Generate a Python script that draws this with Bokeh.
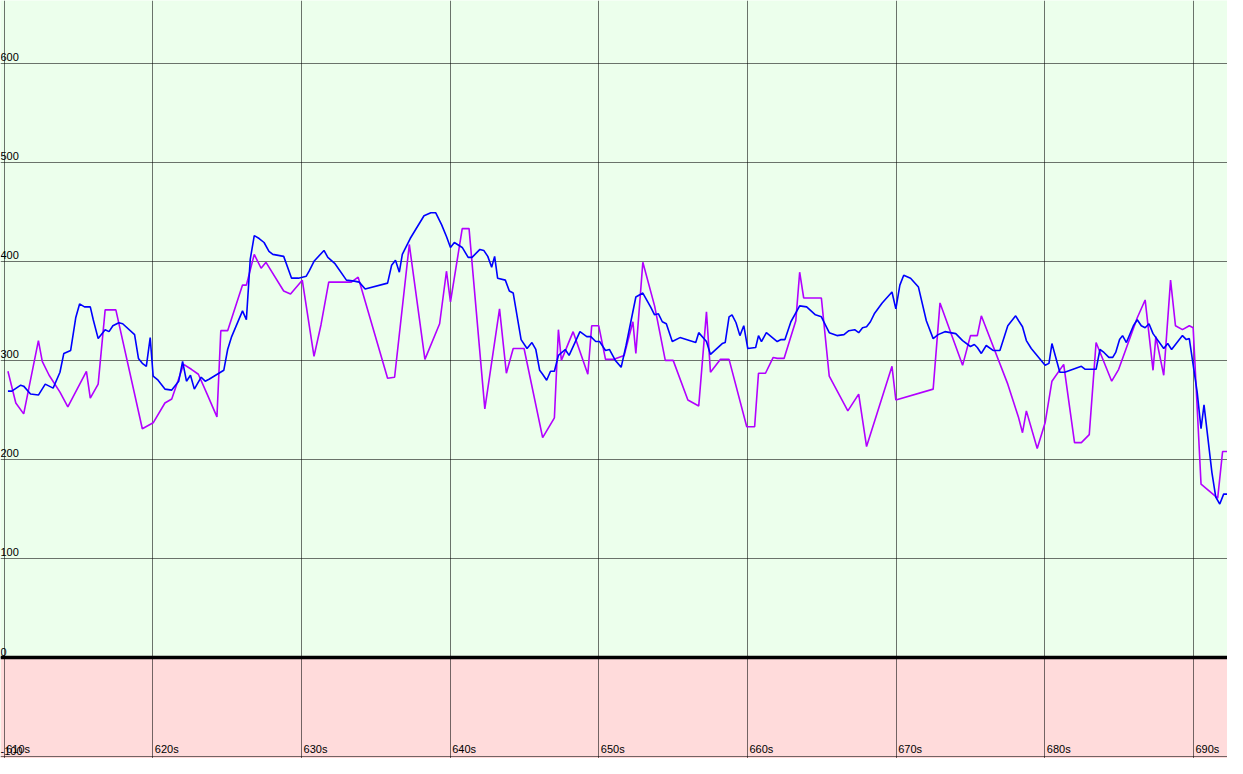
from bokeh.plotting import figure
from bokeh.models import Range1d, ColumnDataSource, Grid, FixedTicker, BoxAnnotation, Span
from bokeh.core.properties import value
from bokeh.embed import file_html
from bokeh.resources import INLINE

# ---- data ----
blue_t = [610.25, 610.51, 611.11, 611.31, 611.77, 612.30, 612.76, 613.29, 613.75, 614.01,
          614.47, 614.81, 615.07, 615.40, 615.79, 615.99, 616.32, 616.79, 617.05, 617.31,
          617.71, 617.97, 618.77, 619.03, 619.29, 619.56, 619.82, 620.02, 620.35, 620.81,
          621.27, 621.74, 622.00, 622.26, 622.53, 622.79, 623.25, 623.52, 623.78, 624.77,
          625.03, 625.30, 626.03, 626.29, 626.55, 626.82, 627.15, 627.48, 627.81, 628.07,
          628.80, 629.33, 629.79, 630.32, 630.51, 630.84, 631.51, 631.77, 632.23, 633.02,
          633.55, 633.88, 634.28, 635.79, 636.06, 636.32, 636.58, 636.78, 637.31, 638.24,
          638.70, 639.03, 639.42, 639.75, 640.02, 640.28, 640.81, 641.21, 641.47, 642.00,
          642.26, 642.53, 642.79, 642.99, 643.19, 643.71, 643.98, 644.24, 644.77, 645.17,
          645.50, 645.76, 646.02, 646.22, 646.49, 646.75, 647.01, 647.28, 647.74, 648.00,
          648.73, 649.19, 649.46, 649.79, 650.05, 650.45, 650.71, 651.11, 651.50, 651.83,
          652.49, 652.96, 653.48, 653.75, 654.01, 654.27, 654.54, 654.94, 655.46, 656.52,
          656.72, 657.24, 657.51, 658.30, 658.50, 658.76, 658.96, 659.23, 659.49, 659.75,
          660.02, 660.55, 660.74, 660.94, 661.27, 662.00, 662.26, 662.52, 662.92, 663.51,
          663.98, 664.57, 664.97, 665.50, 666.02, 666.49, 666.82, 667.21, 667.48, 667.74,
          668.01, 668.27, 668.53, 669.06, 669.72, 669.98, 670.25, 670.51, 670.97, 671.50,
          672.03, 672.49, 672.82, 673.28, 674.01, 674.47, 675.00, 675.26, 675.46, 675.73,
          676.06, 676.52, 676.98, 677.51, 678.04, 678.24, 678.50, 678.76, 679.09, 680.02,
          680.28, 680.48, 681.01, 681.34, 682.46, 682.72, 683.45, 683.71, 683.98, 684.31,
          684.57, 684.77, 685.03, 685.23, 685.49, 685.96, 686.22, 686.49, 686.75, 687.01,
          687.28, 688.00, 688.27, 688.53, 689.26, 689.52, 689.72, 690.25, 690.51, 690.71,
          691.24, 691.50, 691.77, 692.03, 692.29]
blue_v = [269, 269, 275, 274, 266, 265, 276, 272, 288, 307,
          310, 343, 357, 354, 354, 341, 322, 331, 329, 335,
          338, 337, 326, 302, 297, 294, 323, 284, 280, 271,
          270, 279, 299, 279, 285, 271, 283, 279, 281, 290,
          311, 324, 350, 341, 402, 426, 423, 419, 410, 407,
          405, 383, 383, 385, 390, 400, 411, 404, 398, 381,
          380, 379, 372, 378, 396, 401, 389, 407, 423, 446,
          449, 449, 437, 425, 414, 419, 414, 404, 404, 412,
          411, 405, 394, 405, 383, 381, 370, 368, 321, 312,
          318, 311, 290, 286, 280, 289, 289, 305, 311, 305,
          329, 324, 324, 319, 319, 310, 311, 300, 293, 315,
          364, 368, 354, 346, 347, 339, 337, 319, 323, 318,
          328, 319, 306, 317, 318, 344, 346, 338, 325, 335,
          312, 313, 325, 319, 328, 319, 321, 321, 339, 355,
          354, 346, 344, 328, 325, 326, 330, 331, 328, 333,
          334, 339, 347, 358, 369, 352, 376, 386, 383, 374,
          340, 322, 326, 329, 327, 320, 314, 316, 313, 307,
          315, 310, 310, 335, 345, 340, 334, 320, 312, 295,
          297, 317, 288, 288, 294, 291, 291, 311, 308, 303,
          303, 308, 321, 325, 318, 335, 341, 335, 333, 337,
          327, 312, 317, 311, 325, 321, 322, 268, 231, 255,
          187, 162, 155, 165, 165]

purple_t = [610.25, 610.78, 611.31, 612.30, 612.56, 613.02, 613.75, 614.28, 615.53, 615.79,
            616.32, 616.79, 617.51, 619.29, 620.02, 620.81, 621.27, 622.07, 622.59, 623.06,
            623.65, 624.31, 624.57, 625.03, 626.03, 626.29, 626.82, 627.28, 627.61, 628.80,
            629.26, 630.05, 630.84, 631.31, 631.83, 633.35, 633.81, 635.79, 636.26, 637.25,
            638.30, 639.29, 639.75, 640.02, 640.81, 641.27, 642.33, 643.32, 643.78, 644.24,
            644.97, 646.22, 647.01, 647.28, 647.48, 648.27, 649.26, 649.52, 649.99, 650.45,
            650.97, 651.70, 652.29, 652.49, 652.96, 653.75, 654.47, 655.00, 655.99, 656.72,
            657.24, 657.51, 658.17, 658.76, 659.95, 660.48, 660.74, 661.21, 661.73, 662.00,
            662.46, 663.25, 663.51, 663.78, 664.97, 665.50, 666.75, 667.48, 668.01, 669.72,
            669.98, 672.49, 672.95, 674.47, 675.00, 675.46, 675.73, 677.51, 678.24, 678.50,
            678.76, 679.49, 680.02, 680.48, 681.27, 682.00, 682.46, 682.99, 683.45, 684.50,
            684.97, 686.22, 686.75, 687.28, 687.47, 688.00, 688.46, 688.79, 689.26, 689.72,
            689.98, 690.51, 691.63, 691.96, 692.29]
purple_v = [289, 257, 246, 320, 299, 285, 268, 253, 289, 262,
            276, 351, 351, 231, 237, 257, 261, 296, 291, 286,
            266, 243, 330, 330, 376, 376, 407, 393, 399, 370,
            367, 381, 304, 336, 379, 379, 384, 282, 283, 417,
            301, 337, 390, 359, 433, 433, 251, 352, 287, 312,
            312, 222, 242, 331, 300, 329, 286, 335, 335, 301,
            301, 305, 339, 307, 399, 355, 300, 300, 260, 254,
            349, 288, 301, 301, 233, 233, 287, 287, 303, 302,
            302, 340, 389, 363, 363, 284, 249, 266, 213, 294,
            260, 271, 358, 295, 325, 325, 345, 276, 242, 227,
            249, 211, 237, 279, 296, 217, 217, 225, 318, 279,
            291, 343, 361, 290, 324, 285, 381, 335, 331, 335,
            333, 175, 161, 208, 208]

y_ticks = [-100, 0, 100, 200, 300, 400, 500, 600]
y_labels = ["-100", "0", "100", "200", "300", "400", "500", "600"]
x_ticks = [610, 620, 630, 640, 650, 660, 670, 680, 690]
x_labels = ["610s", "620s", "630s", "640s", "650s", "660s", "670s", "680s", "690s"]

X0, X1 = 609.75, 692.29
Y0, Y1 = -101.9, 663.3

p = figure(width=1227, height=758, output_backend="svg", toolbar_location=None,
           x_range=Range1d(X0, X1), y_range=Range1d(Y0, Y1),
           x_axis_type=None, y_axis_type=None, min_border=0)
p.outline_line_color = None
p.background_fill_color = "#ecffec"
p.add_layout(BoxAnnotation(top=0, fill_color="#ffdbdb", fill_alpha=1.0, line_color=None, level="underlay"))

p.add_layout(Grid(dimension=0, ticker=FixedTicker(ticks=x_ticks), grid_line_color="#000000",
                  grid_line_alpha=0.55, grid_line_width=1))
p.add_layout(Grid(dimension=1, ticker=FixedTicker(ticks=y_ticks), grid_line_color="#000000",
                  grid_line_alpha=0.55, grid_line_width=1))
p.add_layout(Span(location=0, dimension="width", line_color="black", line_width=3.5))

p.line(purple_t, purple_v, line_color="#b200ff", line_width=1.6)
p.line(blue_t, blue_v, line_color="#0000ff", line_width=1.6)

ysrc = ColumnDataSource(dict(x=[X0] * len(y_ticks), y=y_ticks, t=y_labels))
p.text(x="x", y="y", text="t", source=ysrc, text_font=value("Liberation Sans"),
       text_font_size="11px", text_color="black", text_baseline="bottom",
       text_align="left", y_offset=-2)

xsrc = ColumnDataSource(dict(x=x_ticks, y=[-100] * len(x_ticks), t=x_labels))
p.text(x="x", y="y", text="t", source=xsrc, text_font=value("Liberation Sans"),
       text_font_size="11px", text_color="black", text_baseline="bottom",
       text_align="left", x_offset=2, y_offset=-2)

open("out.html", "w").write(file_html(p, INLINE))
